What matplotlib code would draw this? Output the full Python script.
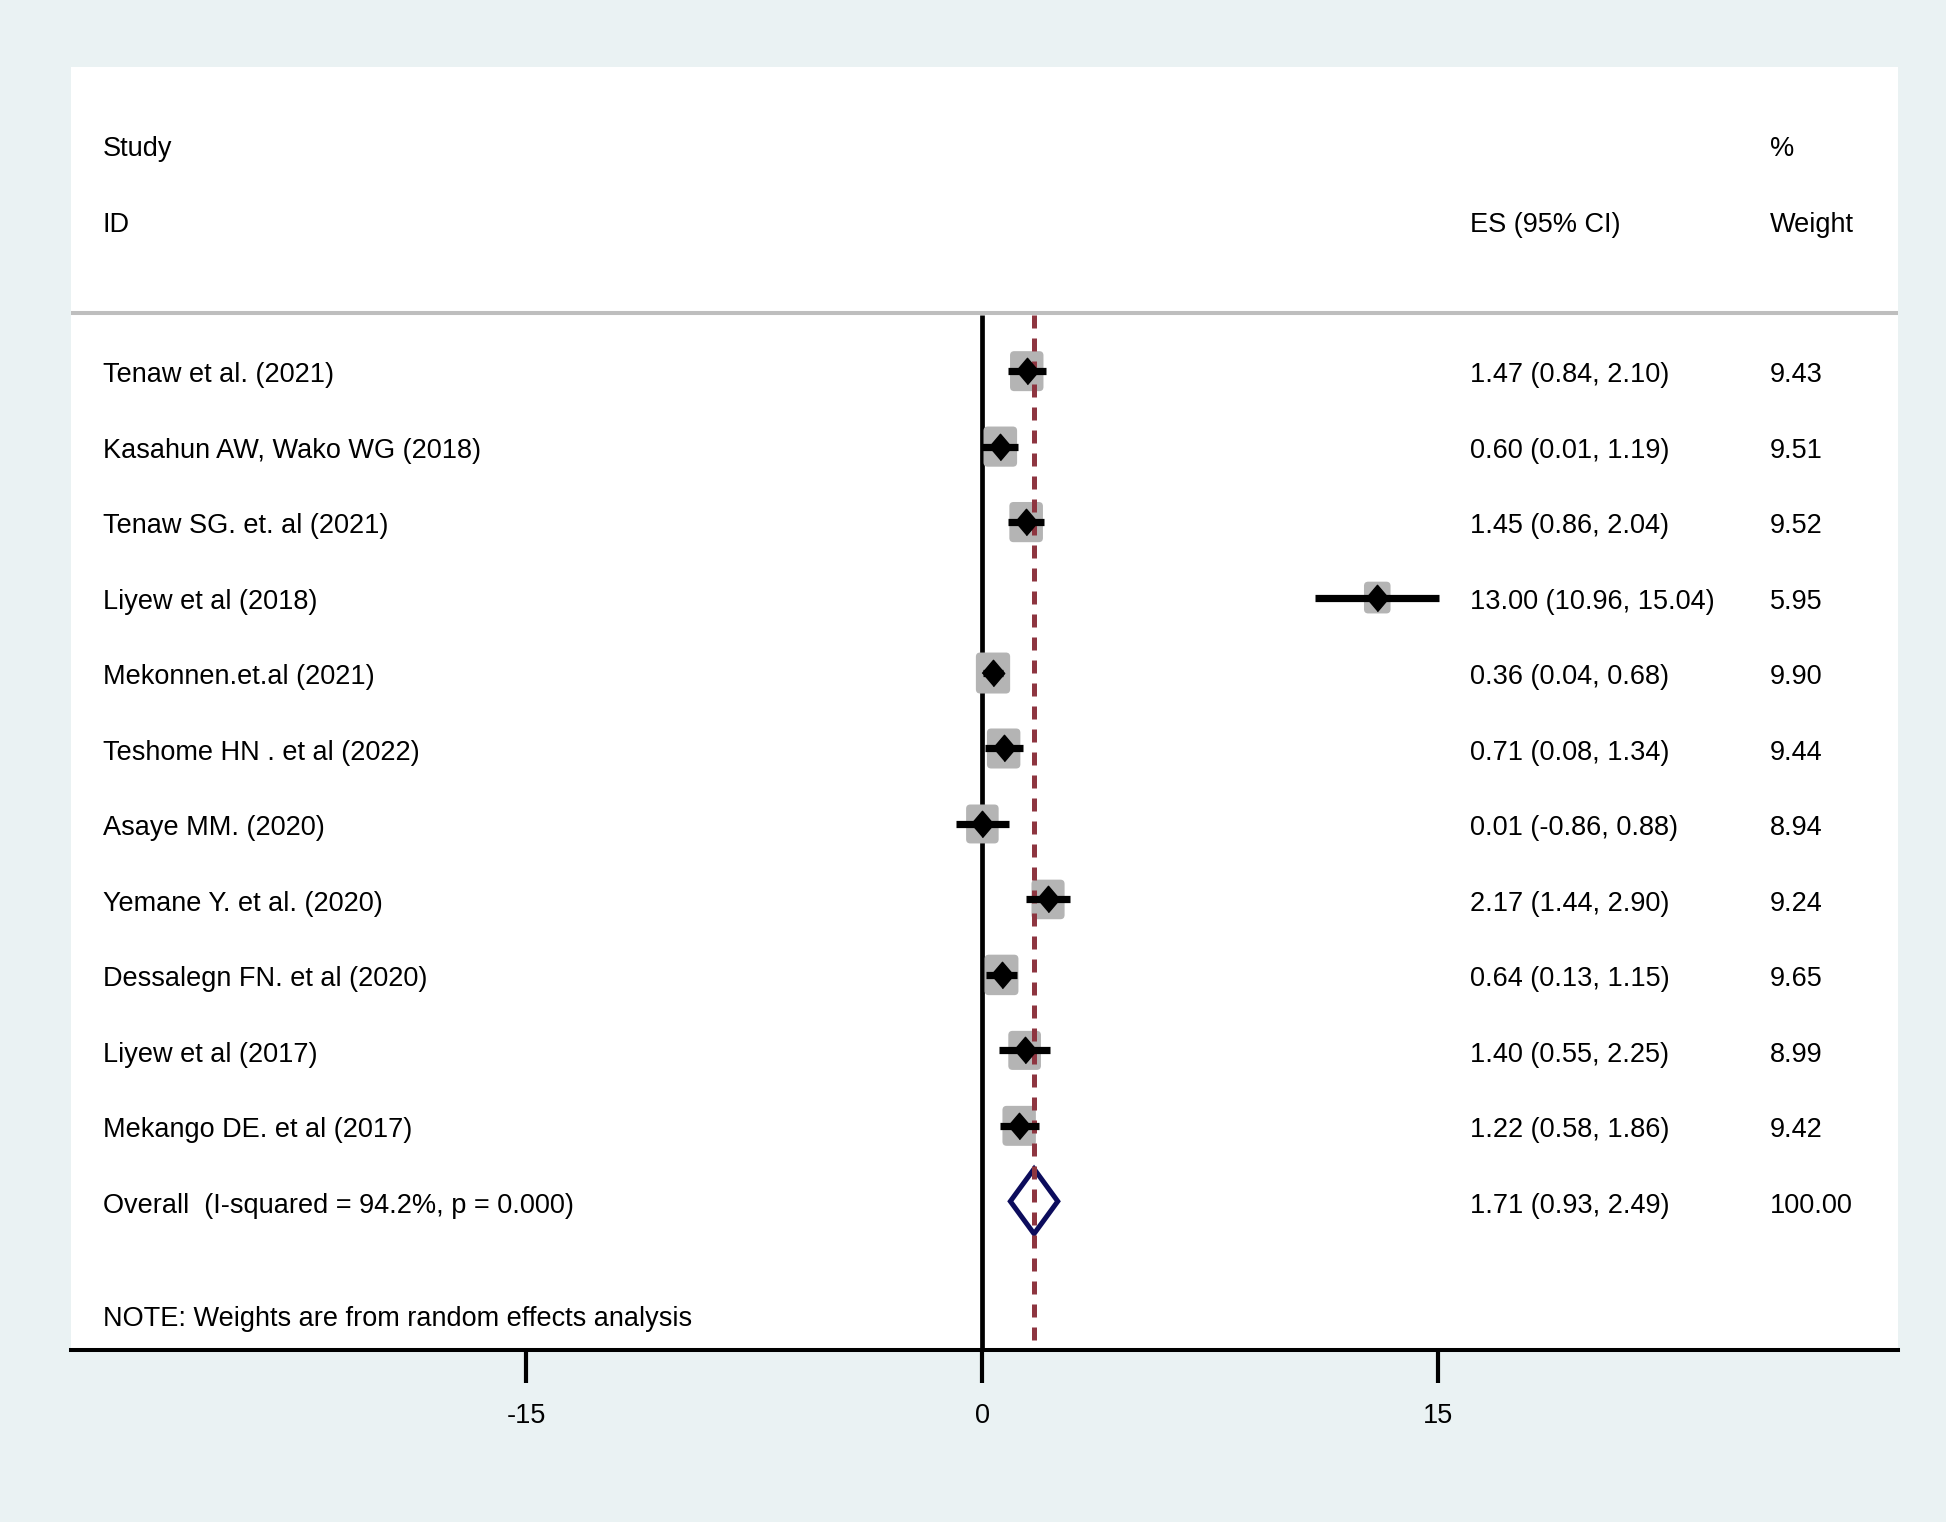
import matplotlib
matplotlib.use("Agg")
import matplotlib.pyplot as plt
from matplotlib.patches import FancyBboxPatch, Polygon
import numpy as np

plt.rcParams['font.family'] = ['Liberation Sans', 'DejaVu Sans']
plt.rcParams['axes.unicode_minus'] = False

studies = ["Tenaw et al. (2021)", "Kasahun AW, Wako WG (2018)", "Tenaw SG. et. al (2021)",
           "Liyew et al (2018)", "Mekonnen.et.al (2021)", "Teshome HN . et al (2022)",
           "Asaye MM. (2020)", "Yemane Y. et al. (2020)", "Dessalegn FN. et al (2020)",
           "Liyew et al (2017)", "Mekango DE. et al (2017)"]
es = [1.47, 0.60, 1.45, 13.00, 0.36, 0.71, 0.01, 2.17, 0.64, 1.40, 1.22]
lo = [0.84, 0.01, 0.86, 10.96, 0.04, 0.08, -0.86, 1.44, 0.13, 0.55, 0.58]
hi = [2.10, 1.19, 2.04, 15.04, 0.68, 1.34, 0.88, 2.90, 1.15, 2.25, 1.86]
weights = [9.43, 9.51, 9.52, 5.95, 9.90, 9.44, 8.94, 9.24, 9.65, 8.99, 9.42]

overall_label = "Overall  (I-squared = 94.2%, p = 0.000)"
overall_es, overall_lo, overall_hi = 1.71, 0.93, 2.49
overall_weight = "100.00"
note = "NOTE: Weights are from random effects analysis"
xticks = [-15, 0, 15]

W, H = 1946, 1522
fig = plt.figure(figsize=(W / 100, H / 100), dpi=100, facecolor="#EAF2F3")
ax = fig.add_axes([71 / W, 1 - 1350 / H, (1898 - 71) / W, (1350 - 67) / H])
ax.set_facecolor("white")
ax.set_xlim(-29.97, 30.13)
ax.set_ylim(12.97, -4.03)

for s in ["top", "left", "right"]:
    ax.spines[s].set_visible(False)
ax.spines["bottom"].set_linewidth(2.9)
ax.set_yticks([])
ax.set_xticks(xticks)
ax.set_xticklabels([str(t) for t in xticks])
ax.tick_params(axis="x", direction="out", length=24, width=3, pad=14, labelsize=19.5)

fs = 19.5
off = 0.15
tx = ax.get_yaxis_transform()  # x in axes coords, y in data
col_study, col_es, col_w = 0.0175, 0.766, 0.930

ax.text(col_study, -3 + off, "Study", transform=tx, fontsize=fs, va="baseline")
ax.text(col_study, -2 + off, "ID", transform=tx, fontsize=fs, va="baseline")
ax.text(col_es, -2 + off, "ES (95% CI)", transform=tx, fontsize=fs, va="baseline")
ax.text(col_w, -3 + off, "%", transform=tx, fontsize=fs, va="baseline")
ax.text(col_w, -2 + off, "Weight", transform=tx, fontsize=fs, va="baseline")

ax.axhline(-0.77, color="#BEBEBE", lw=2.9, zorder=1)

# reference lines
ax.plot([0, 0], [-0.74, 12.97], color="black", lw=3.4, zorder=2, solid_capstyle="butt")
ax.plot([overall_es, overall_es], [-0.74, 12.97], color="#8E3540", lw=3.6,
        dashes=(2.6, 2.0), zorder=5)

ref_w = 9.43
for i in range(len(studies)):
    k = np.sqrt(weights[i] / ref_w)
    bw, bh = 1.1 * k, 0.53 * k
    box = FancyBboxPatch((es[i] - bw / 2, i - bh / 2), bw, bh,
                         boxstyle="round,pad=0,rounding_size=0.14",
                         mutation_aspect=0.403, fc="#B4B4B4", ec="none", zorder=3)
    ax.add_patch(box)
    ax.plot([lo[i], hi[i]], [i, i], color="black", lw=5.2, zorder=6, solid_capstyle="butt")
    ax.plot(es[i], i, marker=[(-0.85, 0), (0, 1), (0.85, 0), (0, -1)], ms=19,
            color="black", mec="black", mew=1, zorder=7)
    ax.text(col_study, i + off, studies[i], transform=tx, fontsize=fs, va="baseline")
    ax.text(col_es, i + off, "%.2f (%.2f, %.2f)" % (es[i], lo[i], hi[i]),
            transform=tx, fontsize=fs, va="baseline")
    ax.text(col_w, i + off, "%.2f" % weights[i], transform=tx, fontsize=fs, va="baseline")

j = len(studies)
dia = Polygon([(overall_lo, j), (overall_es, j - 0.43), (overall_hi, j), (overall_es, j + 0.43)],
              closed=True, fc="none", ec="#0C0C5C", lw=3.6, zorder=4)
ax.add_patch(dia)
ax.text(col_study, j + off, overall_label, transform=tx, fontsize=fs, va="baseline")
ax.text(col_es, j + off, "%.2f (%.2f, %.2f)" % (overall_es, overall_lo, overall_hi),
        transform=tx, fontsize=fs, va="baseline")
ax.text(col_w, j + off, overall_weight, transform=tx, fontsize=fs, va="baseline")

ax.text(col_study, 12.5 + off, note, transform=tx, fontsize=fs, va="baseline")

fig.savefig("out.png", dpi=100, facecolor=fig.get_facecolor())
